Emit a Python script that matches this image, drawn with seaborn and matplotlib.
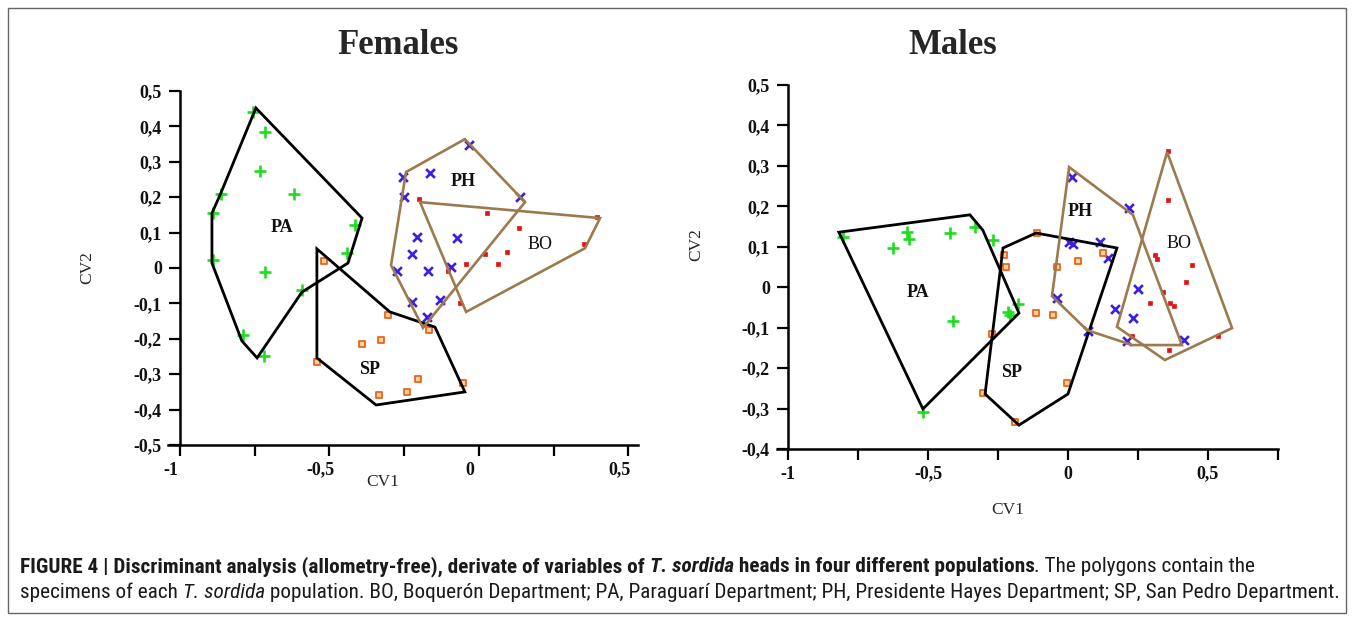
import os
import numpy as np
import pandas as pd
import matplotlib
matplotlib.use("Agg")
import matplotlib.pyplot as plt
import seaborn as sns
from matplotlib import font_manager
from matplotlib.font_manager import FontProperties
from matplotlib.transforms import ScaledTranslation
from matplotlib.patches import Rectangle

# ---------------- data (CV1, CV2) ----------------
groups = ["PA", "SP", "PH", "BO"]

# Females
f_pa_x = [-0.756, -0.716, -0.732, -0.863, -0.619, -0.890, -0.415, -0.441, -0.890, -0.716, -0.592, -0.789, -0.719]
f_pa_y = [0.441, 0.384, 0.274, 0.209, 0.209, 0.155, 0.121, 0.042, 0.023, -0.011, -0.062, -0.189, -0.249]
f_sp_x = [-0.518, -0.304, -0.391, -0.328, -0.167, -0.542, -0.204, -0.241, -0.334, -0.054]
f_sp_y = [0.020, -0.133, -0.215, -0.203, -0.175, -0.266, -0.314, -0.350, -0.359, -0.325]
f_ph_x = [-0.033, -0.254, -0.164, -0.251, 0.137, -0.207, -0.074, -0.224, -0.274, -0.171, -0.094, -0.224, -0.130, -0.174]
f_ph_y = [0.347, 0.257, 0.268, 0.201, 0.201, 0.088, 0.085, 0.040, -0.008, -0.008, 0.003, -0.096, -0.090, -0.138]
f_bo_x = [-0.201, 0.027, 0.134, 0.351, 0.395, 0.094, 0.020, 0.064, -0.043, -0.104, -0.064]
f_bo_y = [0.195, 0.155, 0.113, 0.068, 0.144, 0.045, 0.040, 0.011, 0.011, -0.008, -0.099]

f_pa_hull_x = [-0.746, -0.391, -0.438, -0.592, -0.742, -0.793, -0.893, -0.893, -0.866]
f_pa_hull_y = [0.452, 0.141, 0.014, -0.068, -0.254, -0.206, 0.014, 0.155, 0.206]
f_sp_hull_x = [-0.542, -0.298, -0.147, -0.047, -0.344, -0.542]
f_sp_hull_y = [0.054, -0.124, -0.167, -0.350, -0.387, -0.254]
f_ph_hull_x = [-0.047, 0.154, -0.187, -0.294, -0.244]
f_ph_hull_y = [0.364, 0.186, -0.169, 0.008, 0.271]
f_bo_hull_x = [-0.197, 0.405, 0.355, -0.043]
f_bo_hull_y = [0.186, 0.141, 0.056, -0.124]

f_label_x = [-0.659, -0.365, -0.054, 0.204]
f_label_y = [0.113, -0.288, 0.243, 0.065]

# Males
m_pa_x = [-0.804, -0.575, -0.568, -0.625, -0.421, -0.332, -0.268, -0.214, -0.207, -0.179, -0.411, -0.518]
m_pa_y = [0.124, 0.136, 0.119, 0.097, 0.134, 0.149, 0.117, -0.061, -0.069, -0.042, -0.084, -0.309]
m_sp_x = [-0.111, -0.229, -0.221, -0.039, 0.036, 0.125, -0.114, -0.054, -0.271, -0.004, -0.304, -0.189]
m_sp_y = [0.134, 0.080, 0.050, 0.050, 0.065, 0.085, -0.064, -0.069, -0.116, -0.237, -0.262, -0.333]
m_ph_x = [0.014, 0.218, 0.018, 0.005, 0.114, 0.143, -0.039, 0.250, 0.168, 0.232, 0.071, 0.211, 0.414]
m_ph_y = [0.273, 0.196, 0.107, 0.112, 0.112, 0.072, -0.027, -0.004, -0.054, -0.076, -0.108, -0.133, -0.131]
m_bo_x = [0.357, 0.357, 0.311, 0.318, 0.443, 0.421, 0.339, 0.293, 0.364, 0.379, 0.229, 0.361, 0.536]
m_bo_y = [0.337, 0.216, 0.080, 0.070, 0.055, 0.013, -0.012, -0.039, -0.039, -0.046, -0.121, -0.155, -0.121]

m_pa_hull_x = [-0.818, -0.350, -0.304, -0.175, -0.518]
m_pa_hull_y = [0.136, 0.179, 0.141, -0.064, -0.301]
m_sp_hull_x = [-0.232, -0.114, 0.175, 0.000, -0.175, -0.296]
m_sp_hull_y = [0.097, 0.134, 0.097, -0.264, -0.341, -0.264]
m_ph_hull_x = [0.004, 0.232, 0.407, 0.229, 0.068, -0.057]
m_ph_hull_y = [0.297, 0.179, -0.143, -0.143, -0.106, -0.022]
m_bo_hull_x = [0.354, 0.586, 0.346, 0.175]
m_bo_hull_y = [0.334, -0.101, -0.180, -0.098]

m_label_x = [-0.536, -0.200, 0.043, 0.396]
m_label_y = [-0.012, -0.212, 0.186, 0.107]

# ticks
x_major = [-1, -0.5, 0, 0.5]
x_major_labels = ["-1", "-0,5", "0", "0,5"]
f_x_minor = [-0.75, -0.25, 0.25]
m_x_minor = [-0.75, -0.25, 0.25, 0.75]
f_y_ticks = [0.5, 0.4, 0.3, 0.2, 0.1, 0.0, -0.1, -0.2, -0.3, -0.4, -0.5]
f_y_labels = ["0,5", "0,4", "0,3", "0,2", "0,1", "0", "-0,1", "-0,2", "-0,3", "-0,4", "-0,5"]
m_y_ticks = [0.5, 0.4, 0.3, 0.2, 0.1, 0.0, -0.1, -0.2, -0.3, -0.4]
m_y_labels = ["0,5", "0,4", "0,3", "0,2", "0,1", "0", "-0,1", "-0,2", "-0,3", "-0,4"]

# ---------------- style ----------------
sns.set_style("white")
plt.rcParams['font.family'] = ['Liberation Serif', 'DejaVu Serif']

W, H = 1354, 621
fig = plt.figure(figsize=(W / 100, H / 100), dpi=100)
fig.patch.set_facecolor("white")

GREEN = "#1fdc1f"
BLUE = "#3a1fe0"
ORANGE = "#e8661a"
ORANGE_FILL = "#ffd2a6"
RED = "#e01414"
BROWN = "#9c7a4e"


def px_axes(left, right, top, bottom):
    return fig.add_axes([left / W, 1 - bottom / H, (right - left) / W, (bottom - top) / H])


ax_f = px_axes(168, 638, 91, 445)
ax_m = px_axes(777, 1278, 85, 449)


def scatter(ax, xs, ys, marker, color, s, lw, edge=None):
    df = pd.DataFrame({"CV1": xs, "CV2": ys})
    kw = dict(data=df, x="CV1", y="CV2", ax=ax, marker=marker, s=s,
              linewidth=lw, legend=False, zorder=3)
    if edge is None:
        sns.scatterplot(color=color, **kw)
    else:
        sns.scatterplot(color=color, edgecolor=edge, **kw)


def panel(ax, pts, hulls, labels_xy, xlim, ylim, x_minor, y_ticks, y_labels):
    (pa, sp, ph, bo) = pts
    scatter(ax, *pa, "+", GREEN, 80, 1.9)
    scatter(ax, *ph, "x", BLUE, 40, 1.9)
    scatter(ax, *sp, "s", ORANGE_FILL, 20, 1.3, edge=ORANGE)
    scatter(ax, *bo, "s", RED, 9, 0.5, edge=RED)
    for (hx, hy), col, lw in zip(hulls, ["black", "black", BROWN, BROWN], [2.0, 2.0, 1.9, 1.9]):
        ax.fill(hx, hy, fill=False, edgecolor=col, linewidth=lw, zorder=4)
    lx, ly = labels_xy
    for name, x, y in zip(groups, lx, ly):
        ax.text(x, y, name, fontsize=13, fontweight="normal" if name == "BO" else "bold",
                ha="center", va="center", color="#111111", zorder=5)
    ax.set_xlim(*xlim)
    ax.set_ylim(*ylim)
    ax.spines["top"].set_visible(False)
    ax.spines["right"].set_visible(False)
    ax.spines["left"].set_position(("data", -1))
    for sp_ in ("left", "bottom"):
        ax.spines[sp_].set_linewidth(1.8)
        ax.spines[sp_].set_color("black")
    ax.set_xticks(x_major, labels=x_major_labels)
    ax.set_xticks(x_minor, minor=True)
    ax.set_yticks(y_ticks, labels=y_labels)
    ax.tick_params(axis="both", which="both", direction="out", length=8, width=1.6,
                   color="black", labelsize=13, labelcolor="#111111",
                   bottom=True, left=True, top=False, right=False)
    ax.tick_params(axis="x", which="both", pad=4)
    ax.tick_params(axis="y", which="both", pad=5)
    for lbl in ax.get_xticklabels() + ax.get_yticklabels():
        lbl.set_fontweight("bold")
    ax.set_facecolor("white")
    ax.grid(False)
    ax.set_xlabel("CV1", fontsize=12.5)
    ax.set_ylabel("CV2", fontsize=12.5)


panel(ax_f,
      [(f_pa_x, f_pa_y), (f_sp_x, f_sp_y), (f_ph_x, f_ph_y), (f_bo_x, f_bo_y)],
      [(f_pa_hull_x, f_pa_hull_y), (f_sp_hull_x, f_sp_hull_y),
       (f_ph_hull_x, f_ph_hull_y), (f_bo_hull_x, f_bo_hull_y)],
      (f_label_x, f_label_y), (-1.04, 0.532), (-0.5, 0.5), f_x_minor, f_y_ticks, f_y_labels)
panel(ax_m,
      [(m_pa_x, m_pa_y), (m_sp_x, m_sp_y), (m_ph_x, m_ph_y), (m_bo_x, m_bo_y)],
      [(m_pa_hull_x, m_pa_hull_y), (m_sp_hull_x, m_sp_hull_y),
       (m_ph_hull_x, m_ph_hull_y), (m_bo_hull_x, m_bo_hull_y)],
      (m_label_x, m_label_y), (-1.039, 0.75), (-0.4, 0.5), m_x_minor, m_y_ticks, m_y_labels)

# axis label positions (axes coords)
ax_f.xaxis.set_label_coords((383 - 168) / 470, (445 - 474) / 354)
ax_f.yaxis.set_label_coords((95 - 168) / 470, 0.5)
ax_m.xaxis.set_label_coords((1008 - 777) / 501, (449 - 502) / 364)
ax_m.yaxis.set_label_coords((704 - 777) / 501, (449 - 245) / 364)

# Females tick labels sit a little left of their ticks
off = ScaledTranslation(-9 / 100, 0, fig.dpi_scale_trans)
for lbl in ax_f.get_xticklabels():
    lbl.set_transform(lbl.get_transform() + off)

# titles
fig.text(398 / W, 1 - 45 / H, "Females", fontsize=25, fontweight="bold", ha="center", va="center")
fig.text(953 / W, 1 - 45 / H, "Males", fontsize=25, fontweight="bold", ha="center", va="center")

# frame
fig.add_artist(Rectangle((8 / W, 8 / H), 1338 / W, 605 / H, transform=fig.transFigure,
                         fill=False, edgecolor="#666666", linewidth=1.0))

# ---------------- caption ----------------
files = [f.fname for f in font_manager.fontManager.ttflist]


def find_file(name):
    for fn in files:
        if os.path.basename(fn).lower() == name.lower():
            return fn
    return None


variants = {
    ("normal", "normal"): ["LiberationSansNarrow-Regular.ttf", "RobotoCondensed-Regular.ttf", "DejaVuSansCondensed.ttf"],
    ("bold", "normal"): ["LiberationSansNarrow-Bold.ttf", "RobotoCondensed-Bold.ttf", "DejaVuSansCondensed-Bold.ttf"],
    ("normal", "italic"): ["LiberationSansNarrow-Italic.ttf", "RobotoCondensed-Italic.ttf", "DejaVuSansCondensed-Oblique.ttf"],
    ("bold", "italic"): ["LiberationSansNarrow-BoldItalic.ttf", "RobotoCondensed-BoldItalic.ttf", "DejaVuSansCondensed-BoldOblique.ttf"],
}
cap_files = {}
for idx in range(3):
    got = {k: find_file(v[idx]) for k, v in variants.items()}
    if all(got.values()):
        cap_files = got
        break


def cap_props(fs, weight, style):
    fn = cap_files.get((weight, style))
    if fn:
        return FontProperties(fname=fn, size=fs)
    return FontProperties(family="Liberation Sans", weight=weight, style=style, size=fs)


renderer = fig.canvas.get_renderer()


def run_width(txt, fs, weight, style):
    fp = cap_props(fs, weight, style)
    t1 = fig.text(0, 0, "x" + txt + "x", fontproperties=fp)
    t2 = fig.text(0, 0, "xx", fontproperties=fp)
    w = t1.get_window_extent(renderer).width - t2.get_window_extent(renderer).width
    t1.remove(); t2.remove()
    return w


line1 = [("FIGURE 4 | Discriminant analysis (allometry-free), derivate of variables of ", "bold", "normal"),
         ("T. sordida", "bold", "italic"),
         (" heads in four different populations", "bold", "normal"),
         (". The polygons contain the", "normal", "normal")]
line2 = [("specimens of each ", "normal", "normal"),
         ("T. sordida", "normal", "italic"),
         (" population. BO, Boquerón Department; PA, Paraguarí Department; PH, Presidente Hayes Department; SP, San Pedro Department.", "normal", "normal")]

fs0 = 13
w2 = sum(run_width(t, fs0, wt, st) for t, wt, st in line2)
fs = min(fs0 * 1318 / w2, 15.5)


def draw_line(runs, x0, ybase):
    x = x0
    for t, wt, st in runs:
        fig.text(x / W, 1 - ybase / H, t, fontproperties=cap_props(fs, wt, st),
                 ha="left", va="baseline", color="#1a1a1a")
        x += run_width(t, fs, wt, st)


draw_line(line1, 20, 572)
draw_line(line2, 20, 598)

fig.savefig("out.png", dpi=100, facecolor="white")
